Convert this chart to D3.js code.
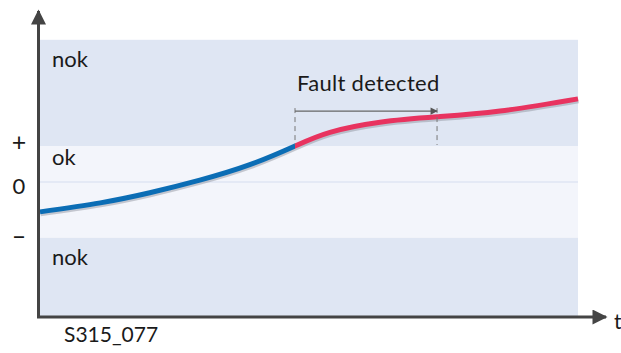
<!DOCTYPE html>
<html>
<head>
<meta charset="utf-8">
<script src="https://cdn.jsdelivr.net/npm/d3@7/dist/d3.min.js"></script>
<style>
  html, body { margin: 0; padding: 0; background: #fff; }
  svg { display: block; }
  text { font-family: Lato, "Open Sans", sans-serif; fill: #1a1a1a; }
</style>
</head>
<body>
<svg id="chart" width="621" height="353"></svg>
<script>
// Signal over time: value in relative units (0 = nominal, ±thresholds)
const timeSteps   = [0, 11.2, 20.4, 29.7, 39.0, 47.4, 53.9, 63.2, 73.8, 85.5, 100];
const signalValue = [-0.83, -0.58, -0.30, 0.05, 0.48, 1.0, 1.38, 1.66, 1.81, 1.97, 2.31];

// Tolerance bands
const bandNames  = ["nok", "ok", "nok"];
const bandLow    = [1.0, -1.55, -3.75];
const bandHigh   = [3.95, 1.0, -1.55];

// Y axis tick labels
const tickLabels = ["+", "0", "\u2013"];
const tickValues = [1.0, 0.0, -1.55];

// Fault window: threshold crossed -> fault detected
const faultStart = 47.4;
const faultEnd   = 73.8;
const faultLevel = 1.97;
const faultText  = "Fault detected";

const svg = d3.select("#chart");

const x = d3.scaleLinear().domain([0, 100]).range([40, 578]);
const y = d3.scaleLinear().domain([0, 1]).range([182, 146]);

// Bands
svg.selectAll("rect.band")
  .data(bandNames)
  .join("rect")
  .attr("class", "band")
  .attr("x", x(0))
  .attr("width", x(100) - x(0))
  .attr("y", (d, i) => y(bandHigh[i]))
  .attr("height", (d, i) => y(bandLow[i]) - y(bandHigh[i]))
  .attr("fill", d => d === "ok" ? "#f3f5fb" : "#dfe6f3");

// Zero reference line
svg.append("line")
  .attr("x1", x(0)).attr("x2", x(100))
  .attr("y1", y(0)).attr("y2", y(0))
  .attr("stroke", "#e4e9f5").attr("stroke-width", 2);

// Band labels
svg.selectAll("text.band-label")
  .data(bandNames)
  .join("text")
  .attr("class", "band-label")
  .attr("x", 52)
  .attr("y", (d, i) => y(bandHigh[i]) + (d === "ok" ? 19 : 27))
  .attr("font-size", 22)
  .text(d => d);

// Tick labels
svg.selectAll("text.tick")
  .data(tickLabels)
  .join("text")
  .attr("class", "tick")
  .attr("x", 19)
  .attr("y", (d, i) => y(tickValues[i]) + (d === "+" ? 5 : d === "0" ? 12 : 7))
  .attr("text-anchor", "middle")
  .attr("font-size", d => d === "0" ? 22 : 25)
  .text(d => d);

// Arrow markers
const defs = svg.append("defs");
defs.append("marker")
  .attr("id", "axisArrow")
  .attr("viewBox", "0 0 10 10")
  .attr("refX", 9).attr("refY", 5)
  .attr("markerWidth", 5.5).attr("markerHeight", 5)
  .attr("markerUnits", "strokeWidth")
  .attr("orient", "auto")
  .append("path").attr("d", "M0,0 L10,5 L0,10 z").attr("fill", "#444");
defs.append("marker")
  .attr("id", "faultArrow")
  .attr("viewBox", "0 0 10 10")
  .attr("refX", 9).attr("refY", 5)
  .attr("markerWidth", 8).attr("markerHeight", 6)
  .attr("orient", "auto")
  .append("path").attr("d", "M0,0 L10,5 L0,10 z").attr("fill", "#555");

// Signal curve, coloured by clipping at the threshold crossing
const pts = timeSteps.map((t, i) => [t, signalValue[i]]);
const line = d3.line().x(d => x(d[0])).y(d => y(d[1])).curve(d3.curveNatural);
const curvePath = line(pts);

defs.append("clipPath").attr("id", "clipOk")
  .append("rect").attr("x", 0).attr("y", 0)
  .attr("width", x(faultStart)).attr("height", 353);
defs.append("clipPath").attr("id", "clipFault")
  .append("rect").attr("x", x(faultStart)).attr("y", 0)
  .attr("width", 621 - x(faultStart)).attr("height", 353);

// Soft shadow under the curve
svg.append("path")
  .attr("d", curvePath)
  .attr("transform", "translate(0.5,2)")
  .attr("fill", "none")
  .attr("stroke", "#8a8f98")
  .attr("stroke-opacity", 0.45)
  .attr("stroke-width", 5);

svg.append("path")
  .attr("d", curvePath)
  .attr("clip-path", "url(#clipOk)")
  .attr("fill", "none")
  .attr("stroke", "#0b6db5")
  .attr("stroke-width", 5);

svg.append("path")
  .attr("d", curvePath)
  .attr("clip-path", "url(#clipFault)")
  .attr("fill", "none")
  .attr("stroke", "#e8335f")
  .attr("stroke-width", 5);

// Fault window annotation
[faultStart, faultEnd].forEach(t => {
  svg.append("line")
    .attr("x1", x(t)).attr("x2", x(t))
    .attr("y1", y(faultLevel) - 3).attr("y2", y(1) - 1)
    .attr("stroke", "#777").attr("stroke-width", 1)
    .attr("stroke-dasharray", "5,4");
});
svg.append("line")
  .attr("x1", x(faultStart)).attr("x2", x(faultEnd))
  .attr("y1", y(faultLevel)).attr("y2", y(faultLevel))
  .attr("stroke", "#666").attr("stroke-width", 1.2)
  .attr("marker-end", "url(#faultArrow)");
svg.append("text")
  .attr("x", x(faultStart) + 2)
  .attr("y", y(faultLevel) - 20)
  .attr("font-size", 22)
  .attr("letter-spacing", 0.3)
  .text(faultText);

// Axes
svg.append("line")
  .attr("x1", 38.5).attr("x2", 38.5)
  .attr("y1", 318).attr("y2", 11)
  .attr("stroke", "#444").attr("stroke-width", 3)
  .attr("marker-end", "url(#axisArrow)");
svg.append("line")
  .attr("x1", 37).attr("x2", 606)
  .attr("y1", 317).attr("y2", 317)
  .attr("stroke", "#444").attr("stroke-width", 3)
  .attr("marker-end", "url(#axisArrow)");

svg.append("text")
  .attr("x", 614).attr("y", 329)
  .attr("font-size", 21)
  .text("t");

svg.append("text")
  .attr("x", 64).attr("y", 342)
  .attr("font-size", 21)
  .text("S315_077");
</script>
</body>
</html>
